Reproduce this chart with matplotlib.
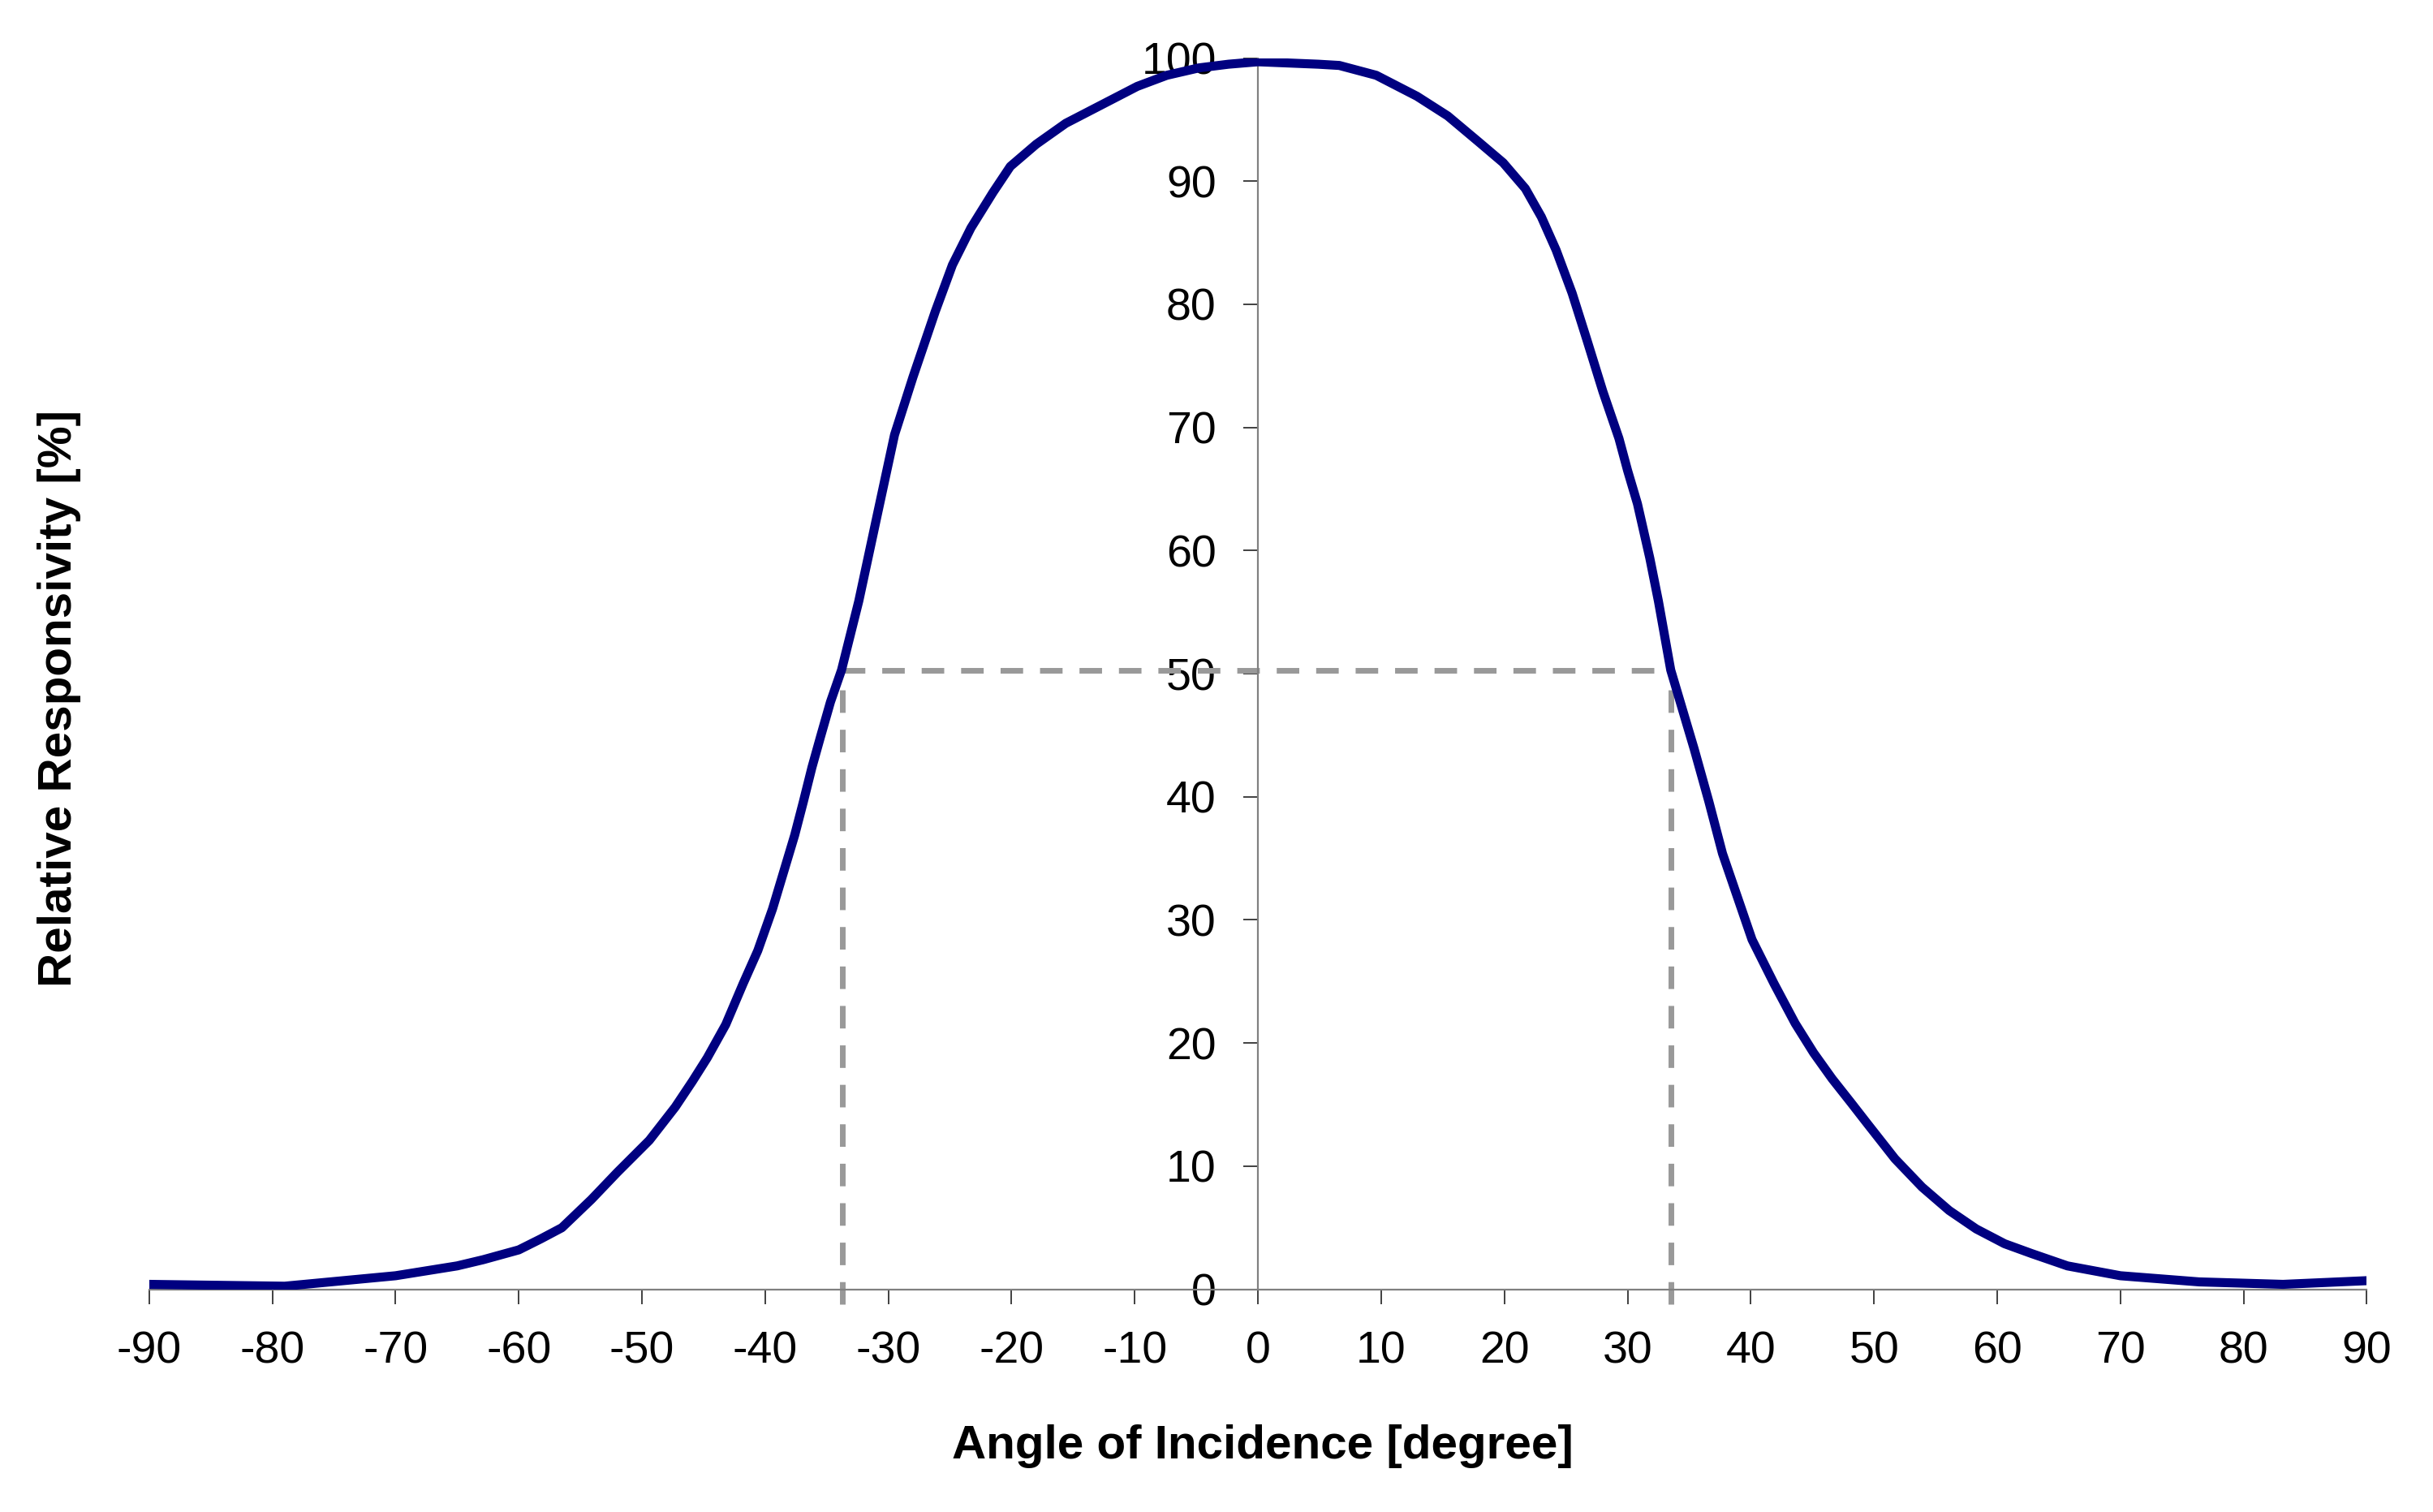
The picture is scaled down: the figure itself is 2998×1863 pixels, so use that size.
import matplotlib
matplotlib.use('Agg')
import matplotlib.pyplot as plt

plt.rcParams['font.family'] = ['Liberation Sans', 'DejaVu Sans']
plt.rcParams['axes.unicode_minus'] = False

# Angular response curve
angle = [-90, -79, -70, -65, -62.9, -60, -58.2, -56.5, -54.1, -52, -49.4,
         -47.3, -45.9, -44.7, -43.2, -41.8, -40.6, -39.4, -38.5, -37.6, -36.9,
         -36.2, -35.5, -34.7, -33.8, -32.4, -30.9, -29.5, -28, -26.2, -24.8, -23.3,
         -21.5, -20.1, -18, -15.6, -12.7, -9.8, -7.4, -4.8, -2.4,
         0, 4.9, 6.6, 9.6, 12.9, 15.4, 17.9, 19.9, 21.7, 23, 24.2, 25.5, 26.7,
         28, 29.3, 30, 30.8, 31.8, 32.5, 33.5, 35.4, 36.6, 37.7, 38.9, 40.1,
         41.9, 43.6, 45.1, 46.6, 48.1, 49.5, 51.7, 53.9, 56.1, 58.3, 60.6,
         62.8, 65.7, 70, 76.4, 83.2, 90]
response = [0.4, 0.25, 1.1, 1.9, 2.4, 3.2, 4.1, 5.0, 7.3, 9.5, 12.1,
            14.8, 16.9, 18.8, 21.5, 24.8, 27.5, 30.9, 33.9, 36.9, 39.6,
            42.4, 44.9, 47.7, 50.3, 55.9, 62.9, 69.4, 74.1, 79.4, 83.2, 86.2,
            89.1, 91.2, 93.0, 94.7, 96.2, 97.7, 98.6, 99.2, 99.5,
            99.7, 99.5, 99.4, 98.6, 96.9, 95.3, 93.2, 91.5, 89.4, 87.1, 84.4, 80.9, 77.1,
            72.9, 69.1, 66.5, 63.8, 59.4, 55.9, 50.3, 43.9, 39.6, 35.4, 31.9, 28.4,
            24.8, 21.6, 19.2, 17.1, 15.2, 13.4, 10.6, 8.3, 6.4, 4.9, 3.7,
            2.9, 1.9, 1.1, 0.6, 0.4, 0.7]

# half-maximum markers
half_left = -33.7
half_right = 33.5
half_level = 50.3

x_ticks = list(range(-90, 91, 10))
y_ticks = list(range(0, 101, 10))

fig = plt.figure(figsize=(14.99, 9.315), dpi=200)
ax = fig.add_axes([0.0613, 0.1473, 0.9115, 0.8143])

ax.plot(angle, response, color='#000080', linewidth=4, solid_capstyle='round',
        solid_joinstyle='round', zorder=3)

dash = dict(color='#999999', linewidth=2.5, dashes=(4, 3), clip_on=False, zorder=2)
ax.plot([half_left, half_left], [-1.2, half_level], **dash)
ax.plot([half_right, half_right], [-1.2, half_level], **dash)
ax.plot([half_left, half_right], [half_level, half_level], **dash)

ax.set_xlim(-90, 90)
ax.set_ylim(0, 100)
ax.set_xticks(x_ticks)
ax.set_yticks(y_ticks)

for side in ['top', 'right']:
    ax.spines[side].set_visible(False)
ax.spines['left'].set_position(('data', 0))
for side in ['left', 'bottom']:
    ax.spines[side].set_color('#808080')
    ax.spines[side].set_linewidth(0.8)

ax.tick_params(axis='both', direction='out', length=6.5, width=0.7,
               color='#404040', labelsize=20, pad=12)

ax.set_xlabel('Angle of Incidence [degree]', fontsize=21, fontweight='bold')
ax.set_ylabel('Relative Responsivity [%]', fontsize=21, fontweight='bold')
ax.xaxis.label.set_va('center')
ax.yaxis.label.set_va('center')
ax.xaxis.set_label_coords(0.502, -0.1275)
ax.yaxis.set_label_coords(-0.0405, 0.480)

fig.savefig('out.png', dpi=200)
